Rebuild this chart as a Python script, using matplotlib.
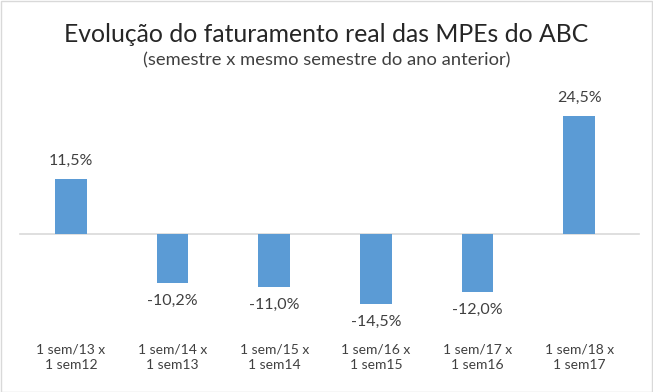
import matplotlib.pyplot as plt
from matplotlib.patches import Rectangle

categories = ["1 sem/13 x\n1 sem12", "1 sem/14 x\n1 sem13", "1 sem/15 x\n1 sem14",
              "1 sem/16 x\n1 sem15", "1 sem/17 x\n1 sem16", "1 sem/18 x\n1 sem17"]
values = [11.5, -10.2, -11.0, -14.5, -12.0, 24.5]
labels = ["11,5%", "-10,2%", "-11,0%", "-14,5%", "-12,0%", "24,5%"]

plt.rcParams['font.family'] = ['Lato', 'DejaVu Sans']

fig = plt.figure(figsize=(6.53, 3.92), dpi=100)
W, H = 653, 392
# axes placed in pixel terms: x from 20 to 630, y from 100 to 330 (top-down)
ax = fig.add_axes([20 / W, 1 - 330 / H, 610 / W, 230 / H])

x = range(len(values))
ax.bar(x, values, width=0.31, color="#5b9bd5", zorder=2)
ax.axhline(0, xmin=0, xmax=1.015, color="#d9d9d9", lw=1.2, zorder=1, clip_on=False)
ax.set_xlim(-0.5, 5.5)
ax.set_ylim(-20, 27.9)

for i, v in enumerate(values):
    if v >= 0:
        ax.text(i, v + 2.3, labels[i], ha="center", va="bottom", fontsize=11.5, color="#404040")
    else:
        ax.text(i, v - 2.3, labels[i], ha="center", va="top", fontsize=11.5, color="#404040")

ax.set_xticks(list(x))
ax.set_xticklabels(categories, fontsize=10, color="#404040", linespacing=1.3)
ax.tick_params(axis="x", length=0, pad=10)
ax.set_yticks([])
for s in ax.spines.values():
    s.set_visible(False)

fig.text(0.5, 1 - 35 / H, "Evolução do faturamento real das MPEs do ABC",
         ha="center", va="center", fontsize=17.8, color="#262626")
fig.text(0.5, 1 - 60 / H, "(semestre x mesmo semestre do ano anterior)",
         ha="center", va="center", fontsize=13.2, color="#404040")

fig.add_artist(Rectangle((0.5 / W, 0.5 / H), 1 - 1.5 / W, 1 - 1.5 / H, transform=fig.transFigure,
                         fill=False, edgecolor="#d9d9d9", lw=1))

plt.savefig("out.png", dpi=100)
